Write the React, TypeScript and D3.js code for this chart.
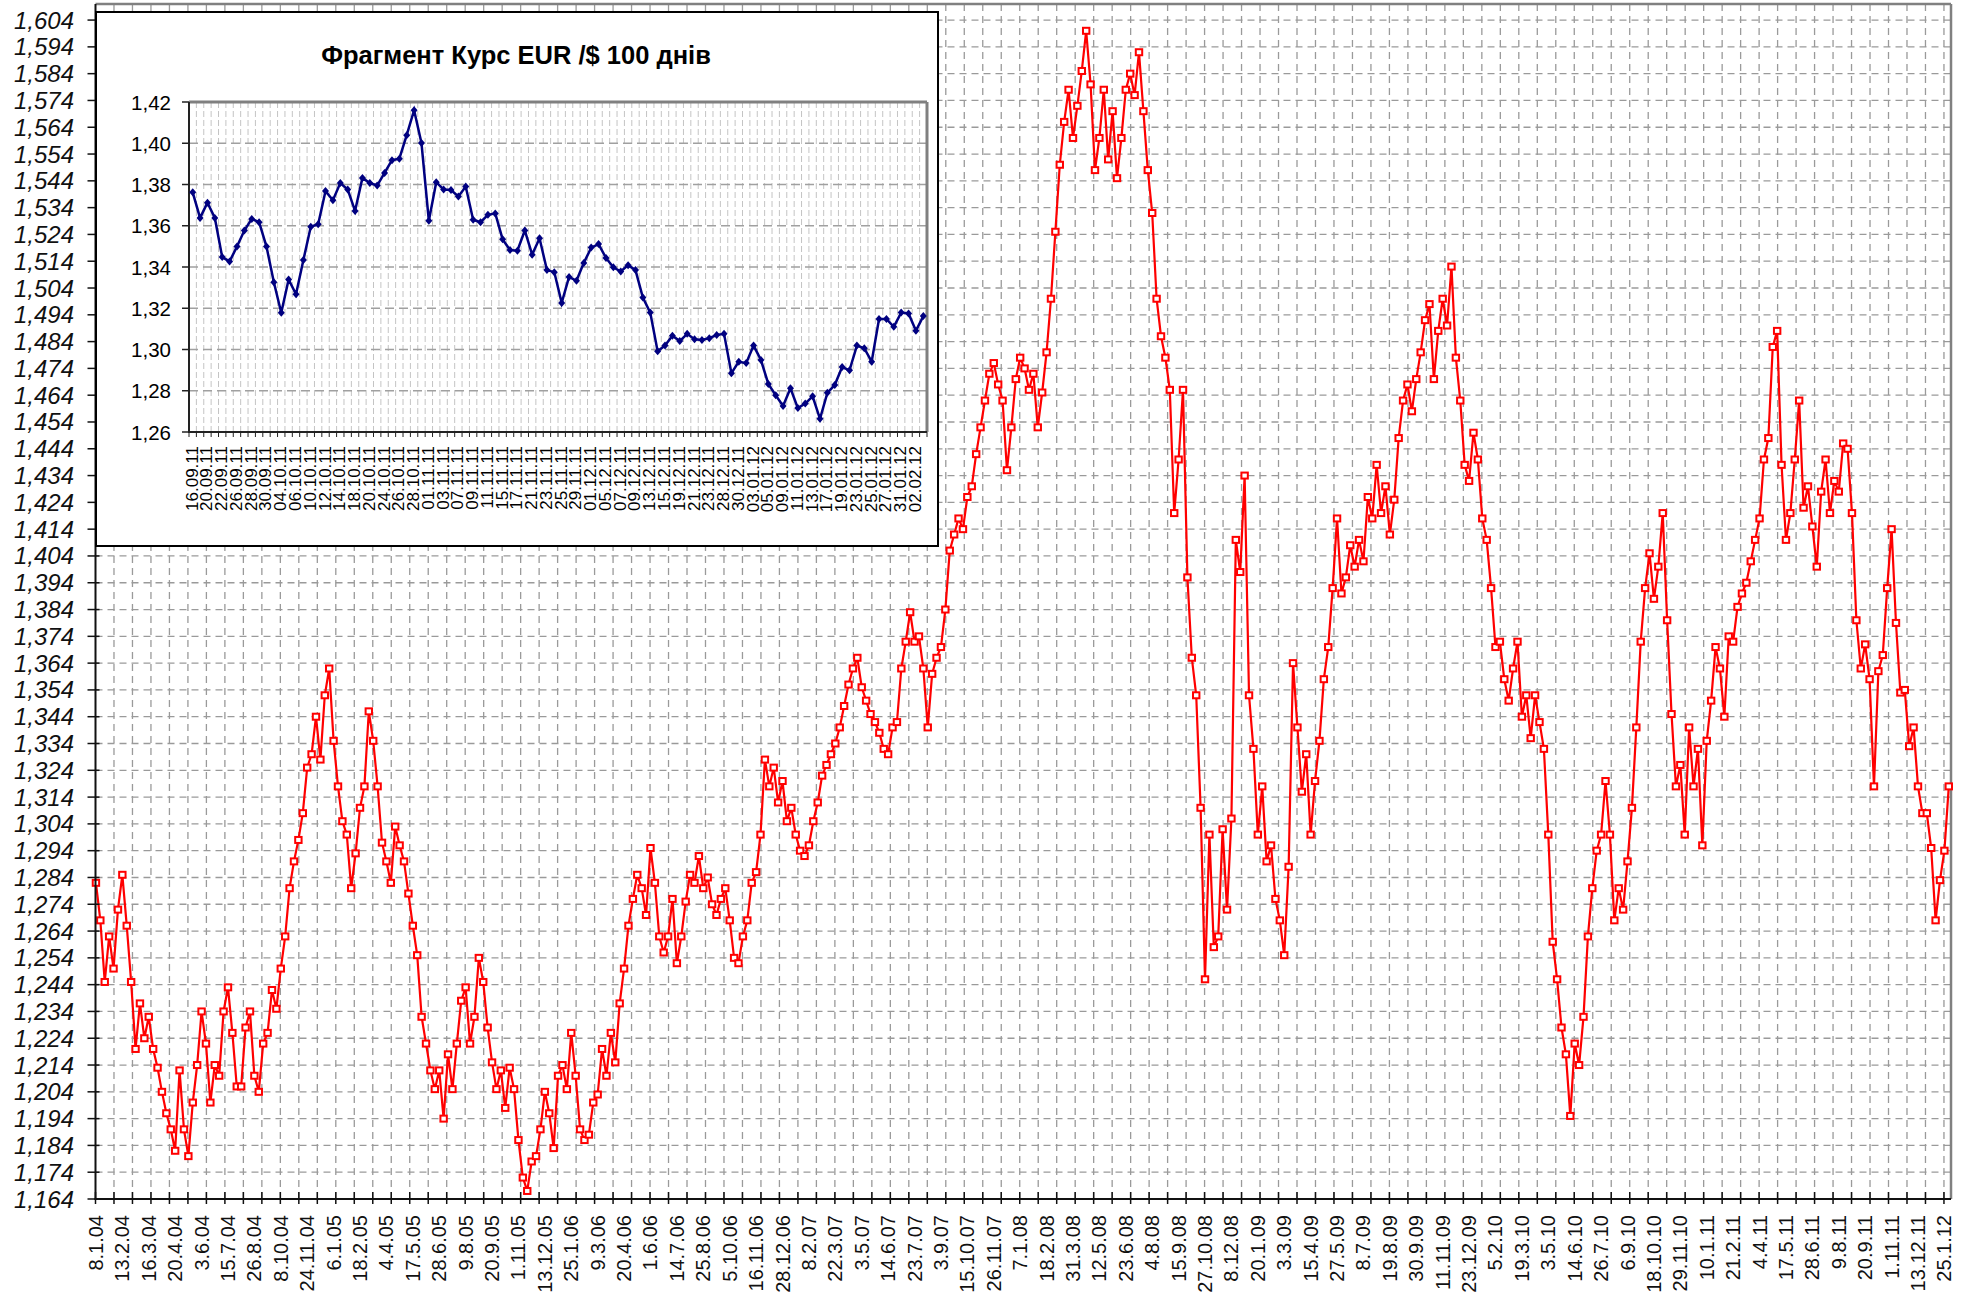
import React from "react";
import * as d3 from "d3";

// EUR/USD, one reading every 5th trading day (8.1.04 .. 3.2.12)
const dayStep = 5;
const totalDays = 2108;
const labelEvery = 30;
const tickEvery = 21;

const dayLabels = [
  "8.1.04", "13.2.04", "16.3.04", "20.4.04", "3.6.04", "15.7.04", "26.8.04", "8.10.04", "24.11.04",
  "6.1.05", "18.2.05", "4.4.05", "17.5.05", "28.6.05", "9.8.05", "20.9.05", "1.11.05", "13.12.05",
  "25.1.06", "9.3.06", "20.4.06", "1.6.06", "14.7.06", "25.8.06", "5.10.06", "16.11.06", "28.12.06",
  "8.2.07", "22.3.07", "3.5.07", "14.6.07", "23.7.07", "3.9.07", "15.10.07", "26.11.07",
  "7.1.08", "18.2.08", "31.3.08", "12.5.08", "23.6.08", "4.8.08", "15.9.08", "27.10.08", "8.12.08",
  "20.1.09", "3.3.09", "15.4.09", "27.5.09", "8.7.09", "19.8.09", "30.9.09", "11.11.09", "23.12.09",
  "5.2.10", "19.3.10", "3.5.10", "14.6.10", "26.7.10", "6.9.10", "18.10.10", "29.11.10",
  "10.1.11", "21.2.11", "4.4.11", "17.5.11", "28.6.11", "9.8.11", "20.9.11", "1.11.11", "13.12.11",
  "25.1.12",
];

const eurUsd = [
  1.282, 1.268, 1.245, 1.262, 1.250, 1.272,
  1.285, 1.266, 1.245, 1.220, 1.237, 1.224,
  1.232, 1.220, 1.213, 1.204, 1.196, 1.190,
  1.182, 1.212, 1.190, 1.180, 1.200, 1.214,
  1.234, 1.222, 1.200, 1.214, 1.210, 1.234,
  1.243, 1.226, 1.206, 1.206, 1.228, 1.234,
  1.210, 1.204, 1.222, 1.226, 1.242, 1.235,
  1.250, 1.262, 1.280, 1.290, 1.298, 1.308,
  1.325, 1.330, 1.344, 1.328, 1.352, 1.362,
  1.335, 1.318, 1.305, 1.300, 1.280, 1.293,
  1.310, 1.318, 1.346, 1.335, 1.318, 1.297,
  1.290, 1.282, 1.303, 1.296, 1.290, 1.278,
  1.266, 1.255, 1.232, 1.222, 1.212, 1.205,
  1.212, 1.194, 1.218, 1.205, 1.222, 1.238,
  1.243, 1.222, 1.232, 1.254, 1.245, 1.228,
  1.215, 1.205, 1.212, 1.198, 1.213, 1.205,
  1.186, 1.172, 1.167, 1.178, 1.180, 1.190,
  1.204, 1.196, 1.183, 1.210, 1.214, 1.205,
  1.226, 1.210, 1.190, 1.186, 1.188, 1.200,
  1.203, 1.220, 1.210, 1.226, 1.215, 1.237,
  1.250, 1.266, 1.276, 1.285, 1.280, 1.270,
  1.295, 1.282, 1.262, 1.256, 1.262, 1.276,
  1.252, 1.262, 1.275, 1.285, 1.282, 1.292,
  1.280, 1.284, 1.274, 1.270, 1.276, 1.280,
  1.268, 1.254, 1.252, 1.262, 1.268, 1.282,
  1.286, 1.300, 1.328, 1.318, 1.325, 1.312,
  1.320, 1.305, 1.310, 1.300, 1.294, 1.292,
  1.296, 1.305, 1.312, 1.322, 1.326, 1.330,
  1.334, 1.340, 1.348, 1.356, 1.362, 1.366,
  1.355, 1.350, 1.345, 1.342, 1.338, 1.332,
  1.330, 1.340, 1.342, 1.362, 1.372, 1.383,
  1.372, 1.374, 1.362, 1.340, 1.360, 1.366,
  1.370, 1.384, 1.406, 1.412, 1.418, 1.414,
  1.426, 1.430, 1.442, 1.452, 1.462, 1.472,
  1.476, 1.468, 1.462, 1.436, 1.452, 1.470,
  1.478, 1.474, 1.466, 1.472, 1.452, 1.465,
  1.480, 1.500, 1.525, 1.550, 1.566, 1.578,
  1.560, 1.572, 1.585, 1.600, 1.580, 1.548,
  1.560, 1.578, 1.552, 1.570, 1.545, 1.560,
  1.578, 1.584, 1.576, 1.592, 1.570, 1.548,
  1.532, 1.500, 1.486, 1.478, 1.466, 1.420,
  1.440, 1.466, 1.396, 1.366, 1.352, 1.310,
  1.246, 1.300, 1.258, 1.262, 1.302, 1.272,
  1.306, 1.410, 1.398, 1.434, 1.352, 1.332,
  1.300, 1.318, 1.290, 1.296, 1.276, 1.268,
  1.255, 1.288, 1.364, 1.340, 1.316, 1.330,
  1.300, 1.320, 1.335, 1.358, 1.370, 1.392,
  1.418, 1.390, 1.396, 1.408, 1.400, 1.410,
  1.402, 1.426, 1.418, 1.438, 1.420, 1.430,
  1.412, 1.425, 1.448, 1.462, 1.468, 1.458,
  1.470, 1.480, 1.492, 1.498, 1.470, 1.488,
  1.500, 1.490, 1.512, 1.478, 1.462, 1.438,
  1.432, 1.450, 1.440, 1.418, 1.410, 1.392,
  1.370, 1.372, 1.358, 1.350, 1.362, 1.372,
  1.344, 1.352, 1.336, 1.352, 1.342, 1.332,
  1.300, 1.260, 1.246, 1.228, 1.218, 1.195,
  1.222, 1.214, 1.232, 1.262, 1.280, 1.294,
  1.300, 1.320, 1.300, 1.268, 1.280, 1.272,
  1.290, 1.310, 1.340, 1.372, 1.392, 1.405,
  1.388, 1.400, 1.420, 1.380, 1.345, 1.318,
  1.326, 1.300, 1.340, 1.318, 1.332, 1.296,
  1.335, 1.350, 1.370, 1.362, 1.344, 1.374,
  1.372, 1.385, 1.390, 1.394, 1.402, 1.410,
  1.418, 1.440, 1.448, 1.482, 1.488, 1.438,
  1.410, 1.420, 1.440, 1.462, 1.422, 1.430,
  1.415, 1.400, 1.428, 1.440, 1.420, 1.432,
  1.428, 1.446, 1.444, 1.420, 1.380, 1.362,
  1.371, 1.358, 1.318, 1.361, 1.367, 1.392,
  1.414, 1.379, 1.353, 1.354, 1.333, 1.340,
  1.318, 1.308, 1.308, 1.295, 1.268, 1.283,
  1.294, 1.318,
];

// inset: last 100 days
const insetTitle = "Фрагмент Курс EUR /$ 100 днів";
const insetLabels = [
  "16.09.11", "20.09.11", "22.09.11", "26.09.11", "28.09.11", "30.09.11", "04.10.11", "06.10.11",
  "10.10.11", "12.10.11", "14.10.11", "18.10.11", "20.10.11", "24.10.11", "26.10.11", "28.10.11",
  "01.11.11", "03.11.11", "07.11.11", "09.11.11", "11.11.11", "15.11.11", "17.11.11", "21.11.11",
  "23.11.11", "25.11.11", "29.11.11", "01.12.11", "05.12.11", "07.12.11", "09.12.11", "13.12.11",
  "15.12.11", "19.12.11", "21.12.11", "23.12.11", "28.12.11", "30.12.11", "03.01.12", "05.01.12",
  "09.01.12", "11.01.12", "13.01.12", "17.01.12", "19.01.12", "23.01.12", "25.01.12", "27.01.12",
  "31.01.12", "02.02.12",
];
const insetRate = [
  1.3762, 1.3638, 1.3712, 1.3638, 1.3448, 1.3427, 1.3499, 1.3577, 1.3633, 1.3617,
  1.3499, 1.3326, 1.3178, 1.3340, 1.3268, 1.3434, 1.3595, 1.3607, 1.3768, 1.3724,
  1.3807, 1.3776, 1.3672, 1.3832, 1.3807, 1.3795, 1.3856, 1.3918, 1.3925, 1.4039,
  1.4160, 1.4001, 1.3624, 1.3811, 1.3776, 1.3773, 1.3742, 1.3790, 1.3629, 1.3617,
  1.3653, 1.3660, 1.3534, 1.3482, 1.3479, 1.3577, 1.3460, 1.3539, 1.3385, 1.3375,
  1.3226, 1.3352, 1.3333, 1.3420, 1.3494, 1.3511, 1.3444, 1.3399, 1.3378, 1.3409,
  1.3385, 1.3252, 1.3179, 1.2991, 1.3019, 1.3067, 1.3041, 1.3076, 1.3050, 1.3046,
  1.3055, 1.3070, 1.3076, 1.2885, 1.2941, 1.2934, 1.3019, 1.2949, 1.2833, 1.2778,
  1.2726, 1.2812, 1.2716, 1.2738, 1.2773, 1.2664, 1.2790, 1.2828, 1.2915, 1.2899,
  1.3019, 1.3006, 1.2941, 1.3148, 1.3148, 1.3110, 1.3179, 1.3175, 1.3091, 1.3162,
];

const FONT = "'Liberation Sans', Arial, sans-serif";
const comma = (v: number, d: number) => v.toFixed(d).replace(".", ",");

export default function App() {
  const W = 1971, H = 1296;

  // main chart
  const left = 95.5, right = 1951, top = 4, bottom = 1199;
  const x = d3.scaleLinear().domain([0, totalDays]).range([left, right]);
  const y = d3.scaleLinear().domain([1.164, 1.61]).range([bottom, top]);
  const yTicks = d3.range(0, 45).map((k) => 1.164 + k * 0.01);
  const xTicks = d3.range(0, Math.floor(totalDays / tickEvery) + 1).map((t) => t * tickEvery);
  const pts = eurUsd.map((v, k) => [x(k * dayStep + 0.5), y(v)] as [number, number]);
  const line = d3.line()(pts) || "";

  // inset
  const ib = { x0: 96, y0: 12, x1: 938, y1: 546 };
  const il = 189, ir = 927, it = 102, ibt = 432;
  const xi = d3.scaleBand<number>().domain(d3.range(insetRate.length)).range([il, ir]);
  const yi = d3.scaleLinear().domain([1.26, 1.42]).range([ibt, it]);
  const yiTicks = d3.range(0, 9).map((k) => 1.26 + k * 0.02);
  const ipts = insetRate.map((v, j) => [xi(j)! + xi.bandwidth() / 2, yi(v)] as [number, number]);
  const iline = d3.line()(ipts) || "";

  return (
    <svg width={W} height={H} style={{ position: "absolute", left: 0, top: 0, background: "#fff" }}
      fontFamily={FONT}>
      <rect x={0} y={0} width={W} height={H} fill="#fff" />
      {/* main grid */}
      {yTicks.slice(1).map((v) => (
        <line key={"hg" + v} x1={left} x2={right} y1={y(v)} y2={y(v)} stroke="#9a9a9a"
          strokeWidth={1.3} strokeDasharray="7,5" />
      ))}
      {xTicks.slice(1).map((i) => (
        <line key={"vg" + i} x1={x(i)} x2={x(i)} y1={top} y2={bottom} stroke="#9a9a9a"
          strokeWidth={1.3} strokeDasharray="7,5" />
      ))}
      <line x1={left} x2={right} y1={top} y2={top} stroke="#808080" strokeWidth={2.5} />
      <line x1={right} x2={right} y1={top} y2={bottom} stroke="#808080" strokeWidth={2.5} />

      {/* main series */}
      <path d={line} fill="none" stroke="#ff0000" strokeWidth={2.2} />
      {pts.map(([px, py], k) => (
        <rect key={"m" + k} x={px - 3.2} y={py - 3} width={6.4} height={6} fill="#fff"
          stroke="#ff0000" strokeWidth={2} />
      ))}

      {/* axes */}
      <line x1={left} x2={left} y1={top} y2={bottom + 1} stroke="#111" strokeWidth={2} />
      <line x1={left - 1} x2={right} y1={bottom} y2={bottom} stroke="#111" strokeWidth={2} />
      {yTicks.map((v) => (
        <g key={"yt" + v}>
          <line x1={left - 8} x2={left + 4} y1={y(v)} y2={y(v)} stroke="#111" strokeWidth={1.5} />
          <text x={74} y={y(v) + 8.5} fontSize={24} fontStyle="italic" textAnchor="end" fill="#111">
            {comma(v, 3)}
          </text>
        </g>
      ))}
      {xTicks.map((i) => (
        <line key={"xt" + i} x1={x(i)} x2={x(i)} y1={bottom - 7} y2={bottom + 5} stroke="#111"
          strokeWidth={1.5} />
      ))}
      {dayLabels.map((s, k) => {
        const lx = x(k * labelEvery + 0.5) + 7;
        return (
          <text key={"xl" + k} transform={`translate(${lx},1215) rotate(-90)`} fontSize={20}
            textAnchor="end" fill="#111">
            {s}
          </text>
        );
      })}

      {/* inset */}
      <rect x={ib.x0} y={ib.y0} width={ib.x1 - ib.x0} height={ib.y1 - ib.y0} fill="#fff"
        stroke="#000" strokeWidth={2} />
      <text x={516} y={64} fontSize={25.5} fontWeight="bold" textAnchor="middle" fill="#000">
        {insetTitle}
      </text>
      {d3.range(1, insetRate.length).map((j) => (
        <line key={"ivg" + j} x1={xi(j)!} x2={xi(j)!} y1={it} y2={ibt} stroke="#c4c4c4"
          strokeWidth={1} strokeDasharray="6,3" />
      ))}
      {yiTicks.slice(1).map((v) => (
        <line key={"ihg" + v} x1={il} x2={ir} y1={yi(v)} y2={yi(v)} stroke="#a0a0a0"
          strokeWidth={1.3} strokeDasharray="9,5" />
      ))}
      <line x1={il} x2={ir} y1={it} y2={it} stroke="#808080" strokeWidth={3} />
      <line x1={ir} x2={ir} y1={it} y2={ibt} stroke="#808080" strokeWidth={3} />
      <line x1={il} x2={il} y1={it} y2={ibt + 1} stroke="#222" strokeWidth={2} />
      <line x1={il - 1} x2={ir} y1={ibt} y2={ibt} stroke="#222" strokeWidth={2} />
      {yiTicks.map((v) => (
        <g key={"iyt" + v}>
          <line x1={il - 7} x2={il} y1={yi(v)} y2={yi(v)} stroke="#222" strokeWidth={1.5} />
          <text x={171} y={yi(v) + 7.5} fontSize={20.5} textAnchor="end" fill="#000">
            {comma(v, 2)}
          </text>
        </g>
      ))}
      {d3.range(0, insetRate.length + 1).map((j) => {
        const tx = il + j * xi.step();
        return <line key={"ixt" + j} x1={tx} x2={tx} y1={ibt} y2={ibt + 5} stroke="#222" strokeWidth={1} />;
      })}
      {insetLabels.map((s, k) => {
        const lx = xi(k * 2)! + xi.bandwidth() / 2 + 5;
        return (
          <text key={"ixl" + k} transform={`translate(${lx},446) rotate(-90)`} fontSize={17}
            textAnchor="end" fill="#000">
            {s}
          </text>
        );
      })}
      <path d={iline} fill="none" stroke="#000080" strokeWidth={2.5} />
      {ipts.map(([px, py], j) => (
        <path key={"d" + j} d={`M${px},${py - 4}L${px + 3.5},${py}L${px},${py + 4}L${px - 3.5},${py}Z`}
          fill="#000080" />
      ))}
    </svg>
  );
}
